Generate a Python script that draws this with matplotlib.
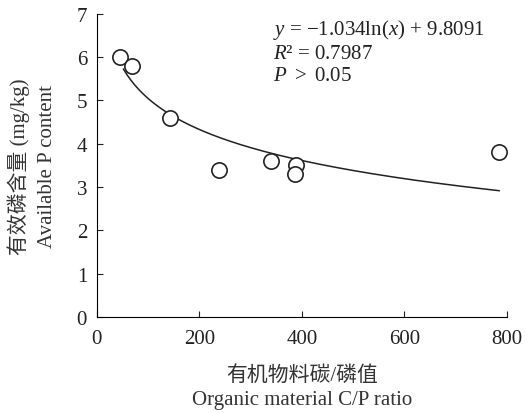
import numpy as np
import matplotlib.pyplot as plt

plt.rcParams['font.family'] = ['Liberation Serif', 'Noto Sans CJK SC']
plt.rcParams['mathtext.fontset'] = 'custom'
plt.rcParams['mathtext.rm'] = 'Liberation Serif'
plt.rcParams['mathtext.it'] = 'Liberation Serif:italic'

# data
cp_ratio = [46, 69, 142, 238, 339, 389, 387, 785]
avail_p = [6.0, 5.8, 4.6, 3.4, 3.6, 3.5, 3.3, 3.8]
a, b = -1.034, 9.8091
x_fit = np.linspace(52, 785, 200)

fig = plt.figure(figsize=(5.29, 4.14), dpi=100)
ax = fig.add_axes([0.183, 0.232, 0.775, 0.732])

ax.plot(x_fit, a*np.log(x_fit) + b, c='#222222', lw=1.1)
ax.plot(cp_ratio, avail_p, ls='none', marker='o', ms=11, mfc='w', mec='#222222', mew=1.2)

ax.set_xlim(0, 800)
ax.set_ylim(0, 7)
ax.set_xticks([0, 200, 400, 600, 800])
ax.set_yticks(range(8))
for s in ['top', 'right']:
    ax.spines[s].set_visible(False)
ax.tick_params(direction='in', labelsize=15, length=4, colors='#222222')
ax.tick_params(axis='x', pad=9)
ax.tick_params(axis='y', pad=7)

ax.set_xlabel('有机物料碳/磷值\nOrganic material C/P ratio', fontsize=15, labelpad=12,
              linespacing=1.35, color='#333333')
ax.set_ylabel('有效磷含量 (mg/kg)\nAvailable P content', fontsize=15, labelpad=14,
              linespacing=1.55, color='#333333')

ax.text(0.43, 0.99, r'$y$ = −1.034ln($x$) + 9.8091' + '\n' + r'$R$' + '² = 0.7987' + '\n' + r'$P$ $>$ 0.05',
        transform=ax.transAxes, fontsize=15, va='top', ha='left', linespacing=1.2, color='#222222')

fig.savefig('out.png', dpi=100)
